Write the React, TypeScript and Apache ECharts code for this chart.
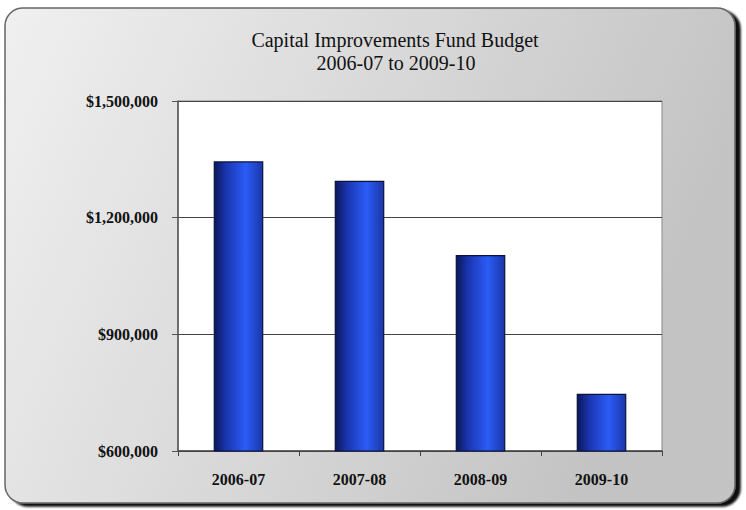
import React, { useEffect, useRef } from "react";
import * as echarts from "echarts";

const categories = ["2006-07", "2007-08", "2008-09", "2009-10"];
const budgetValues = [1345000, 1295000, 1104000, 747000];
const titleLines = ["Capital Improvements Fund Budget", "2006-07 to 2009-10"];

const fmt = (v: number) => "$" + v.toLocaleString("en-US");
const serif = '"Liberation Serif", "DejaVu Serif", serif';

export default function App() {
  const ref = useRef<HTMLDivElement>(null);
  useEffect(() => {
    if (!ref.current) return;
    const chart = echarts.init(ref.current, undefined, { renderer: "svg" });
    const barGradient = new echarts.graphic.LinearGradient(0, 0, 1, 0, [
      { offset: 0, color: "#0b1759" },
      { offset: 0.25, color: "#1a36b0" },
      { offset: 0.65, color: "#2b5cf6" },
      { offset: 1, color: "#1a36a8" },
    ]);
    chart.setOption({
      animation: false,
      graphic: [
        {
          type: "rect",
          z: -10,
          silent: true,
          shape: { x: 5, y: 8, width: 730, height: 495, r: 18 },
          style: {
            fill: new echarts.graphic.LinearGradient(0, 0, 1, 0.3, [
              { offset: 0, color: "#f0f0f0" },
              { offset: 1, color: "#c3c3c3" },
            ]),
            stroke: "#666",
            lineWidth: 1.5,
            shadowColor: "rgba(0,0,0,0.95)",
            shadowOffsetX: 5,
            shadowOffsetY: 3,
            shadowBlur: 2,
          },
        },
        {
          type: "text",
          x: 395,
          y: 40,
          silent: true,
          style: {
            text: titleLines[0],
            font: '20px "Liberation Serif", "DejaVu Serif", serif',
            fill: "#111",
            align: "center",
            verticalAlign: "middle",
          },
        },
        {
          type: "text",
          x: 396,
          y: 63,
          silent: true,
          style: {
            text: titleLines[1],
            font: '20px "Liberation Serif", "DejaVu Serif", serif',
            fill: "#111",
            align: "center",
            verticalAlign: "middle",
          },
        },
      ],
      grid: {
        left: 178,
        top: 101,
        width: 484,
        height: 350,
        show: true,
        backgroundColor: "#ffffff",
        borderColor: "#888",
        borderWidth: 1,
      },
      xAxis: {
        type: "category",
        data: categories,
        axisLine: { lineStyle: { color: "#444", width: 1.5 } },
        axisTick: { show: true, length: 5, lineStyle: { color: "#444" } },
        axisLabel: {
          margin: 20,
          color: "#111",
          fontFamily: serif,
          fontWeight: "bold",
          fontSize: 16,
        },
      },
      yAxis: {
        type: "value",
        min: 600000,
        max: 1500000,
        interval: 300000,
        axisLine: { show: true, lineStyle: { color: "#555", width: 1.5 } },
        axisTick: { show: true, length: 6, lineStyle: { color: "#555" } },
        splitLine: { show: true, lineStyle: { color: "#444", width: 1.2 } },
        axisLabel: {
          margin: 20,
          formatter: (v: number) => fmt(v),
          color: "#111",
          fontFamily: serif,
          fontWeight: "bold",
          fontSize: 16,
        },
      },
      series: [
        {
          type: "bar",
          data: budgetValues,
          barWidth: "41%",
          itemStyle: {
            color: barGradient,
            borderColor: "#0a1240",
            borderWidth: 1.2,
          },
        },
      ],
    });
    return () => chart.dispose();
  }, []);
  return (
    <div
      ref={ref}
      style={{ position: "fixed", left: 0, top: 0, width: 746, height: 510, background: "#fff" }}
    />
  );
}
